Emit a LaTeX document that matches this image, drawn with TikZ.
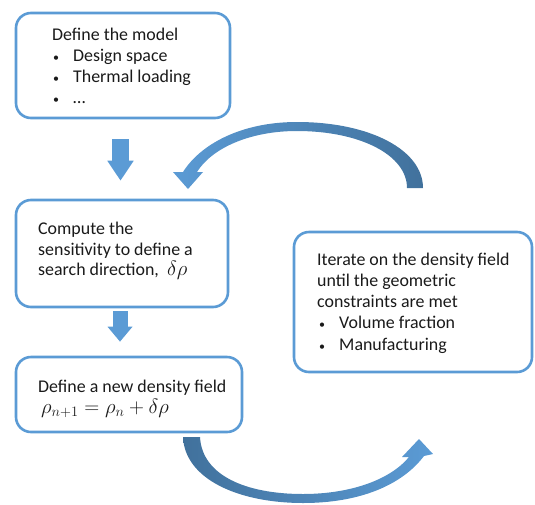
\documentclass[tikz,border=0pt]{standalone}
\usepackage{fontspec}
\setmainfont{Carlito}
\usetikzlibrary{arrows.meta}
\definecolor{boxblue}{HTML}{5B9BD5}
\definecolor{darkblue}{HTML}{41719C}
\definecolor{txt}{HTML}{1A1A1A}
\newcommand{\smbul}{{\fontsize{12}{12}\selectfont\textbullet}}
\begin{document}
\begin{tikzpicture}[x=1pt,y=-1pt,
  box/.style={draw=boxblue,line width=2.6pt,rounded corners=15pt,fill=white,inner sep=0pt},
  lbl/.style={anchor=base west,inner sep=0pt,text=txt,font=\fontsize{17.9}{20}\selectfont},
  mth/.style={anchor=base west,inner sep=0pt,text=txt,font=\fontsize{19.5}{22}\selectfont},
  downarr/.style={draw=boxblue,line width=#1,-{Triangle[width=25pt,length=20pt]}},
]
\useasboundingbox (0,0) rectangle (535,504);
% boxes
\node[box,minimum width=214pt,minimum height=105pt] (b1) at (123,65.5) {};
\node[box,minimum width=212pt,minimum height=107pt] (b2) at (122,253.5) {};
\node[box,minimum width=226pt,minimum height=75pt] (b3) at (129,394.5) {};
\node[box,minimum width=238pt,minimum height=140pt] (b4) at (413,302) {};
% box 1 text
\node[lbl] (t11) at (52,40) {Define the model};
\node[lbl] (t12) at (53,61) {\smbul};
\node[lbl] (t13) at (73,61) {Design space};
\node[lbl] (t14) at (53,82) {\smbul};
\node[lbl] (t15) at (73,82) {Thermal loading};
\node[lbl] (t16) at (53,103) {\smbul};
\node[lbl] (t17) at (73,103) {…};
% box 2 text
\node[lbl] (t21) at (38,234) {Compute the};
\node[lbl] (t22) at (38,255) {sensitivity to define a};
\node[lbl] (t23) at (38,275) {search direction,};
\node[mth] (t24) at (167,275) {$\delta\rho$};
% box 3 text
\node[lbl] (t31) at (38,392) {Define a new density field};
\node[mth] (t32) at (41,413) {$\rho_{n+1}=\rho_n+\delta\rho$};
% box 4 text
\node[lbl] (t41) at (317,265) {Iterate on the density field};
\node[lbl] (t42) at (317,286) {until the geometric};
\node[lbl] (t43) at (317,307) {constraints are met};
\node[lbl] (t44) at (319,328) {\smbul};
\node[lbl] (t45) at (339,328) {Volume fraction};
\node[lbl] (t46) at (319,350) {\smbul};
\node[lbl] (t47) at (339,350) {Manufacturing};
% straight arrows
\draw[downarr=17pt,shorten <=20pt,shorten >=18pt] ([xshift=-2.5pt]b1.south) -- ([xshift=-2.5pt]b1.south |- b2.north);
\draw[draw=boxblue,line width=15pt,-{Triangle[width=24pt,length=15pt]},shorten <=3pt,shorten >=14pt] ([xshift=-2pt]b2.south) -- ([xshift=-2pt]b2.south |- b3.north);
% curved arrow top (from b4 back to b2)
\shade[left color=boxblue,right color=darkblue]
  (423,188) .. controls (423,150) and (370,122) .. (297,122)
  .. controls (240,122) and (200,145) .. (183,172)
  -- (173,172) -- (188,189) -- (203,172) -- (197,172)
  .. controls (212,148) and (250,131) .. (297,131)
  .. controls (360,131) and (407,155) .. (407,188) -- cycle;
% curved arrow bottom (from b3 to b4)
\shade[left color=darkblue,right color=boxblue]
  (183,437) .. controls (185,480) and (240,503) .. (303,503)
  .. controls (360,503) and (402,485) .. (424,456)
  -- (433,454) -- (419,439) -- (402,457) -- (409,457)
  .. controls (390,480) and (350,494) .. (303,494)
  .. controls (245,494) and (202,475) .. (200,437) -- cycle;
\end{tikzpicture}
\end{document}
